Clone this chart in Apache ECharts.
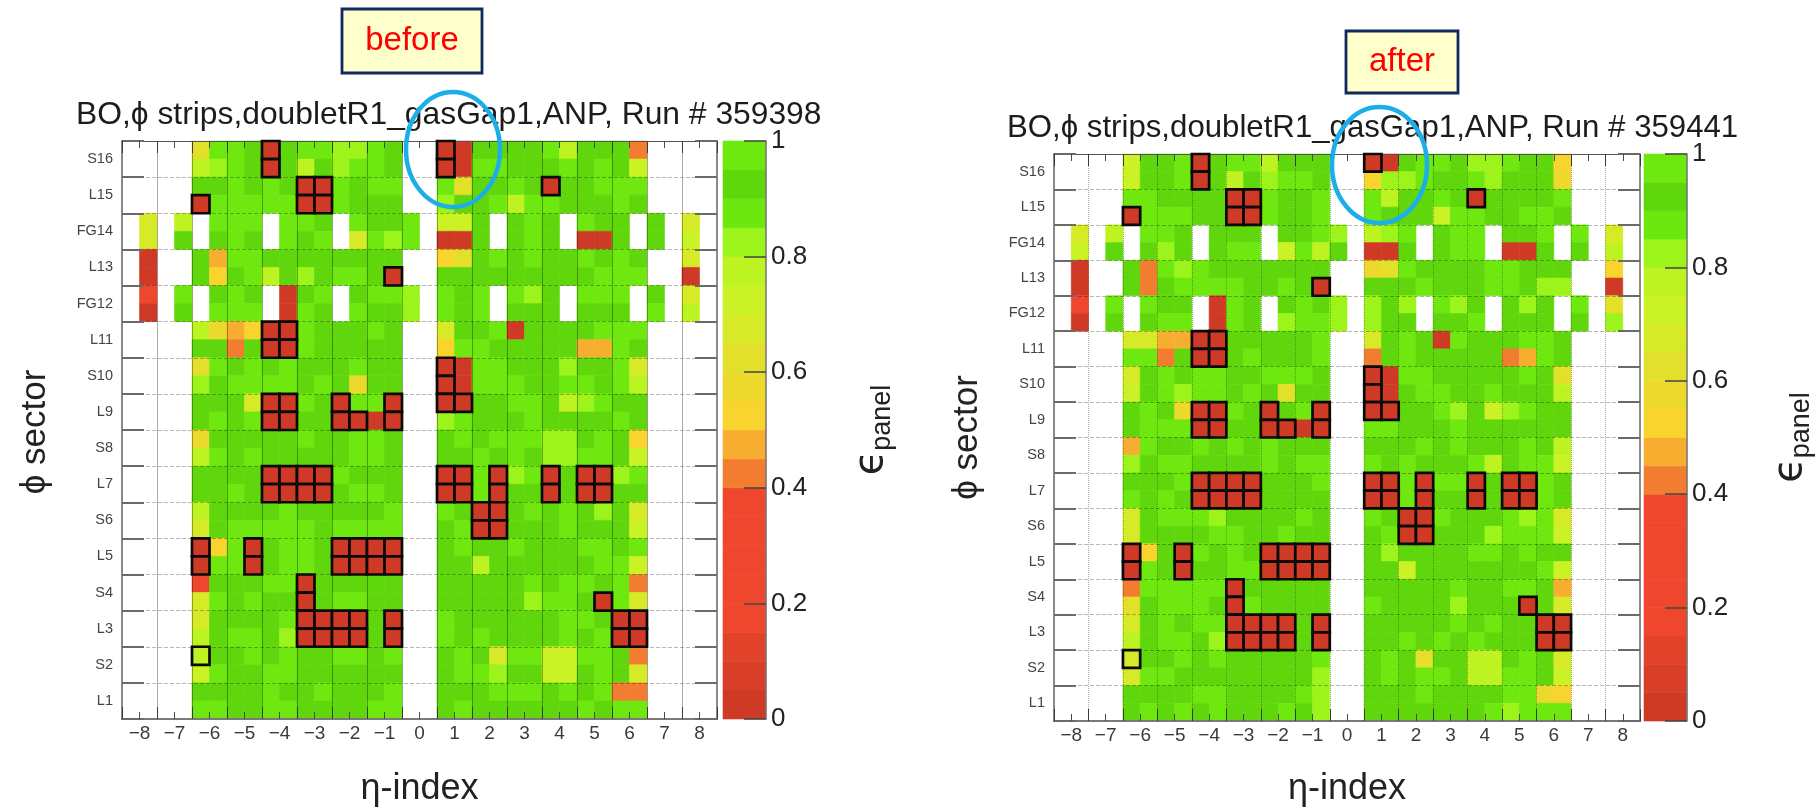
<!DOCTYPE html>
<html>
<head>
<meta charset="utf-8">
<style>html,body{margin:0;padding:0;background:#fff}#c{width:1818px;height:808px}</style>
<script src="https://cdn.jsdelivr.net/npm/echarts@6/dist/echarts.min.js"></script>
</head>
<body>
<div id="c"></div>
<script>
// Sector names, bottom to top; each covers two rows of panels.
const sectorNames = ['L1','S2','L3','S4','L5','S6','L7','S8','L9','S10','L11','FG12','L13','FG14','L15','S16'];
const etaIndex = [-8,-7,-6,-5,-4,-3,-2,-1,0,1,2,3,4,5,6,7,8];
const colorTicks = [0,0.2,0.4,0.6,0.8,1];

// Panel efficiency level per letter (upper case = same level, panel outlined in black).
const levelValues = {g:0.97,h:0.92,l:0.82,m:0.77,n:0.72,o:0.67,p:0.62,q:0.57,r:0.52,s:0.47,t:0.42,u:0.3,x:0.03};

// Rows listed top to bottom, 34 half-index columns from left to right.
const beforeRows = [
"....pgghXhggllgh..Xxhhhhgmhhht....",
"....mlghXhmhlggh..Xxgghhhghghn....",
"....hhghghXXghgg..gphhghXhhggg....",
"....XgggggXXghhh..lhhgmgghhhgh....",
".o.m.ggg.ggh.ghhg.nnh.hgh.ghh.h.o.",
".o.h.hgh.ghg.oglg.xxh.hgh.xxh.h.n.",
".x..hsgghhhhhhhh..rphghghhghgh..o.",
".x..hrhgmhlhgghX..hhhhhhhhhggg..x.",
".u.g.hgh.xhg.hggl.ghg.glh.ggg.h.o.",
".x.h.ggg.xgh.ghhl.ghg.hhh.hhh.g.m.",
"....mqsrXXghhhgh..ohhgxhhhhggg....",
"....hhthXXghhhhh..rgghhhhhssgh....",
"....pghghghhhghh..Xxgghhhlhhgo....",
"....lhgggghghqhh..Xxggghhgghgm....",
"....hhhoXXghXggX..XXhhgghmlghh....",
"....hghgXXhhXXxX..lghhhghhhhgh....",
"....qhhhhhghhggh..hghgggllhghr....",
"....mghghhhhhggh..hhghghllgghn....",
"....hhhhXXXXghhh..XXgXlgXhXXlg....",
"....hhghXXXXhggh..XXgXhhXhXXhh....",
"....mhhhhghhhhhg..ghXXhghghlho....",
"....ohggggghgggg..hgXXhhhghhhn....",
"....XrgXhgghXXXX..hghhghhhgghg....",
"....XggXhgghXXXX..hhmhhhhhhggn....",
"....uhhhggXhhhhh..hhhhhghgghgt....",
"....oghghhXhgghh..hhhhhlgghXgo....",
"....ohhhhgXXXXhX..ghhhhhhgghXX....",
"....mhgghlXXXXhX..ghghhhhghgXX....",
"....Mhhghghhgghg..hghoggnngght....",
"....nghhgghhhhhh..hgglhhnnhgho....",
"....hhhhghhghhhg..hhhggghghgtt....",
"....gghhgghhhhgg..hghhhhhhghgg...."
];

const afterRows = [
"....nhhgXhggmhhh..Xxhgghllghhr....",
"....nhhgXhmhlggh..rllghhglhhhq....",
"....gghhhhXXghhg..gmhhghXhhhhg....",
"....XggghhXXghhg..ghhhngghhggh....",
".o.m.ggh.hhh.hhgl.mlg.hgg.hhg.g.o.",
".n.h.hlh.hgg.ngmh.xxh.hgg.xxh.h.m.",
".x..htglghhhhhhh..qpghhhhgghhh..r.",
".x..hthgggghhghX..hhhghhhgghll..x.",
".u.g.ghh.xgh.hghl.lhl.glh.hlh.g.p.",
".x.h.hgg.xgh.lggl.lhh.hhg.hhh.h.l.",
"....oossXXhhhhhg..ohghxghhhggh....",
"....ggthXXhghhhg..thghhhhhtsgh....",
"....ohghgghhgggh..Xxgghhhhhghp....",
"....nhglgghghphh..Xxhgghhghhhm....",
"....hghqXXghXhgX..XXhhglhnlghh....",
"....hgggXXhhXXxX..gghhhghhhhhh....",
"....sghhghghghhh..hhhghghhhghm....",
"....lhgghhhhghgg..ghghhhgmhggn....",
"....hhhgXXXXhhhg..XXgXggXhXXgh....",
"....ghghXXXXhhhh..XXgXhhXhXXgh....",
"....ohggglhhhhgh..ghXXghhhglgo....",
"....ohhhhgghhghh..hgXXhhhlgggn....",
"....XrhXghghXXXX..hlhhhhgghghh....",
"....XghXhhggXXXX..hhnhhhhhhhgn....",
"....tgggggXhhhhh..hhhhhghhgghs....",
"....phggghXghhhh..ghhhhlhhhXho....",
"....ohghggXXXXhX..hhhhhghghhXX....",
"....mhgghlXXXXhX..hhghghghhhXX....",
"....Ohhghghhhhhg..hghphhmmhgho....",
"....ogghhhhhhhhl..hghgghmmgghn....",
"....hhhhgghhhhgl..hhhghhhhggqr....",
"....hghghghhhghl..hhhhhhhglggg...."
];

// Colour scale: 20 bands of width 0.05, lowest first.
const bandColors = ['#CF3A26','#D93E28','#E2422A','#EE472D','#EE472D','#EE472D','#EE472D','#EE472D',
  '#F27C2F','#F7AE30','#FAD42E','#EDD82C','#E2E02A','#D6EA28','#CAF225','#BEF322','#9CF41A','#6CE80F','#60D60C','#6EE80E'];
const bandWidth = 0.05;

function colorOf(v){ return bandColors[Math.min(bandColors.length-1, Math.floor(v/bandWidth))]; }

function cells(rows, outlined){
  const out = [];
  rows.forEach((row, r) => {
    [...row].forEach((ch, c) => {
      if (ch === '.') return;
      const isOutlined = ch !== ch.toLowerCase();
      if (isOutlined !== outlined) return;
      out.push([-8.5 + c*0.5, rows.length-1-r, levelValues[ch.toLowerCase()]]);
    });
  });
  return out;
}

function renderCell(params, api){
  const p0 = api.coord([api.value(0), api.value(1)+1]);
  const p1 = api.coord([api.value(0)+0.5, api.value(1)]);
  const fill = colorOf(api.value(2));
  return {type:'rect', shape:{x:p0[0], y:p0[1], width:p1[0]-p0[0], height:p1[1]-p0[1]},
    style:{fill:fill, stroke:fill, lineWidth:0.6}};
}
function renderOutlined(params, api){
  const el = renderCell(params, api);
  el.style.stroke = '#0a0a0a'; el.style.lineWidth = 2.7;
  return el;
}
function renderBand(params, api){
  const p0 = api.coord([0, api.value(0)+bandWidth]);
  const p1 = api.coord([1, api.value(0)]);
  const fill = bandColors[api.value(1)];
  return {type:'rect', shape:{x:p0[0], y:p0[1], width:p1[0]-p0[0], height:p1[1]-p0[1]},
    style:{fill:fill, stroke:fill, lineWidth:0.6}};
}

const halfTicks = []; for (let v=-8.5; v<=8.5; v+=1) halfTicks.push(v);
const oddRows = sectorNames.map((_,i)=>2*i+1);
const FONT = '"Liberation Sans", Arial, sans-serif';
const option = {animation:false, backgroundColor:'#fff', title:[], grid:[], xAxis:[], yAxis:[], series:[], graphic:[]};

function addPanel(cfg){
  const gi = option.grid.length;
  option.grid.push({left:cfg.left, top:cfg.top, width:cfg.width, height:cfg.height, containLabel:false, outerBoundsMode:'none'});
  option.title.push({text:cfg.title, left:cfg.titleX, top:cfg.titleY,
    textStyle:{fontFamily:FONT, fontWeight:'normal', fontSize:cfg.titleSize, color:'#1c1c1c'}});
  const xi = option.xAxis.length, yi = option.yAxis.length;
  const baseX = {gridIndex:gi, type:'value', min:-8.5, max:8.5, interval:0.5, z:4, silent:true,
    axisLine:{show:true, onZero:false, lineStyle:{color:'#7a7a7a', width:2}}};
  // integer ticks, labelled, at the bottom
  option.xAxis.push(Object.assign({}, baseX, {position:'bottom', name:'η-index', nameLocation:'middle', nameGap:cfg.xNameGap,
    nameTextStyle:{fontFamily:FONT, fontSize:36, color:'#222'},
    axisTick:{show:true, inside:true, length:7, customValues:etaIndex, lineStyle:{color:'#4a4a4a', width:1}},
    axisLabel:{show:true, customValues:etaIndex, margin:5, fontFamily:FONT, fontSize:19, color:'#3a3a3a',
      formatter:v=>String(v).replace('-','−')},
    splitLine:{show:false}}));
  // half-integer ticks and vertical grid lines
  option.xAxis.push(Object.assign({}, baseX, {position:'bottom',
    axisTick:{show:true, inside:true, length:12, customValues:halfTicks, lineStyle:{color:'#3a3a3a', width:1}},
    axisLabel:{show:false},
    splitLine:{show:true, lineStyle:{color:'rgba(0,0,0,0.32)', width:1, type:cfg.vGrid}}}));
  option.xAxis.push(Object.assign({}, baseX, {position:'top', axisLine:{show:true, onZero:false, lineStyle:{color:'#555', width:1}},
    axisTick:{show:true, inside:true, length:7, customValues:etaIndex, lineStyle:{color:'#4a4a4a', width:1}},
    axisLabel:{show:false}, splitLine:{show:false}}));
  option.xAxis.push(Object.assign({}, baseX, {position:'top', axisLine:{show:false, onZero:false},
    axisTick:{show:true, inside:true, length:12, customValues:halfTicks, lineStyle:{color:'#3a3a3a', width:1}},
    axisLabel:{show:false}, splitLine:{show:false}}));
  const baseY = {gridIndex:gi, type:'value', min:0, max:32, interval:2, z:4, silent:true,
    axisLine:{show:true, onZero:false, lineStyle:{color:'#8a8a8a', width:2}}};
  option.yAxis.push(Object.assign({}, baseY, {position:'left', name:'ϕ sector', nameLocation:'middle', nameRotate:90, nameGap:cfg.yNameGap,
    nameTextStyle:{fontFamily:FONT, fontSize:35, color:'#222', padding:[0,cfg.yNamePad,0,0]},
    axisTick:{show:true, inside:true, length:22, lineStyle:{color:'#6a6a6a', width:2}},
    axisLabel:{show:true, customValues:oddRows, margin:9, fontFamily:FONT, fontSize:14.5, color:'#444',
      formatter:v=>sectorNames[(v-1)/2]},
    splitLine:{show:true, lineStyle:{color:'rgba(0,0,0,0.28)', width:1, type:'dashed'}}}));
  option.yAxis.push(Object.assign({}, baseY, {position:'right',
    axisTick:{show:true, inside:true, length:22, lineStyle:{color:'#6a6a6a', width:2}},
    axisLabel:{show:false}, splitLine:{show:false}}));
  const enc = {x:0, y:1};
  option.series.push({type:'custom', name:cfg.key+' panels', xAxisIndex:xi, yAxisIndex:yi, z:2, clip:false,
    renderItem:renderCell, encode:enc, data:cells(cfg.rows,false)});
  option.series.push({type:'custom', name:cfg.key+' flagged panels', xAxisIndex:xi, yAxisIndex:yi, z:6, clip:false,
    renderItem:renderOutlined, encode:enc, data:cells(cfg.rows,true)});

  // colour bar
  const gb = option.grid.length;
  option.grid.push({left:cfg.barLeft, top:cfg.top, width:cfg.barWidth, height:cfg.height, outerBoundsMode:'none'});
  const xb = option.xAxis.length, yb = option.yAxis.length;
  option.xAxis.push({gridIndex:gb, type:'value', min:0, max:1, show:false});
  option.yAxis.push({gridIndex:gb, type:'value', position:'right', min:0, max:1, interval:0.2, z:4, silent:true,
    name:'{e|ϵ}{s|panel}', nameLocation:'middle', nameRotate:90, nameGap:cfg.barNameGap,
    nameTextStyle:{color:'#222', padding:[0,0,0,cfg.barNamePad],
      rich:{e:{fontFamily:'"DejaVu Sans"', fontSize:40, color:'#222', verticalAlign:'top', lineHeight:44},
            s:{fontFamily:FONT, fontSize:27, color:'#222', verticalAlign:'bottom', lineHeight:44, padding:[14,0,0,0]}}},
    axisLine:{show:true, onZero:false, lineStyle:{color:'#777', width:1.5}},
    axisTick:{show:true, inside:true, length:22, customValues:colorTicks, lineStyle:{color:'#444', width:1.5}},
    axisLabel:{show:true, margin:5, fontFamily:FONT, fontSize:26, color:'#222', customValues:colorTicks},
    splitLine:{show:false}});
  option.series.push({type:'custom', name:cfg.key+' colour scale', xAxisIndex:xb, yAxisIndex:yb, z:2, clip:false,
    renderItem:renderBand, encode:{x:0, y:0}, data:bandColors.map((_,i)=>[+(i*bandWidth).toFixed(2), i])});
  // annotations
  const ec = cfg.ellipse;
  option.graphic.push({type:'ellipse', z:20, shape:{cx:ec[0], cy:ec[1], rx:ec[2], ry:ec[3]},
    style:{fill:null, stroke:'#1CAEE8', lineWidth:4.5}});
  const bx = cfg.box;
  option.graphic.push({type:'rect', z:20, shape:{x:bx[0], y:bx[1], width:bx[2], height:bx[3]},
    style:{fill:'#FFFFCC', stroke:'#10295F', lineWidth:2.8}});
  option.graphic.push({type:'text', z:21, x:bx[0]+bx[2]/2+cfg.labelDx, y:bx[1]+bx[3]/2,
    style:{text:cfg.key, fill:'#FF0000', fontFamily:FONT, fontSize:33, align:'center', verticalAlign:'middle'}});
}

addPanel({key:'before', rows:beforeRows, left:122, top:141, width:595, height:578,
  barLeft:723, barWidth:43, barNameGap:86, barNamePad:0,
  title:'BO,ϕ strips,doubletR1_gasGap1,ANP, Run # 359398', titleX:71, titleY:94, titleSize:31.8,
  xNameGap:52, yNameGap:69, yNamePad:4, vGrid:'solid',
  ellipse:[453,149.5,47,57.5], box:[342,9,140,64], labelDx:0});
addPanel({key:'after', rows:afterRows, left:1054, top:154, width:586, height:567,
  barLeft:1644, barWidth:43, barNameGap:84, barNamePad:0,
  title:'BO,ϕ strips,doubletR1_gasGap1,ANP, Run # 359441', titleX:1002, titleY:108, titleSize:31.2,
  xNameGap:50, yNameGap:69, yNamePad:0, vGrid:'dotted',
  ellipse:[1379.5,165,47.5,58], box:[1346,31,112,62], labelDx:0});

[...beforeRows, ...afterRows].forEach((r,i)=>{ if (r.length!==34) console.error('row', i, r.length); });
const chart = echarts.init(document.getElementById('c'), null, {renderer:'canvas'});
chart.setOption(option);
</script>
</body>
</html>
